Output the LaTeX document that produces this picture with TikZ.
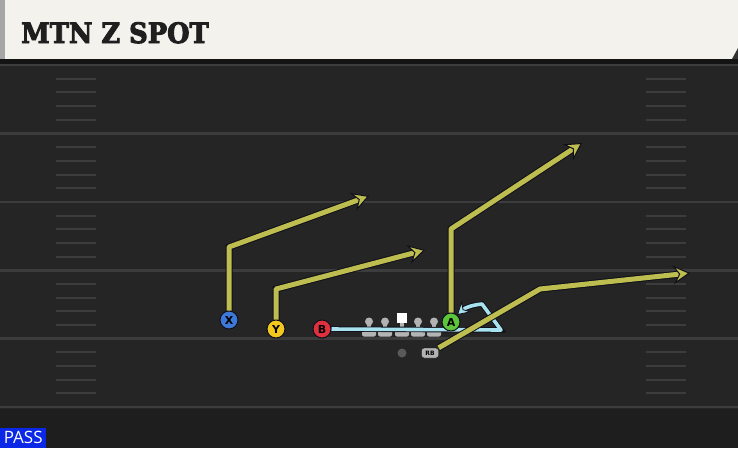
\documentclass[tikz,border=0pt]{standalone}
\usepackage{fontspec}
\setmainfont{DejaVu Sans}
\newfontfamily\titlefont[FakeBold=3.5]{DejaVu Serif Bold}
\newfontfamily\tagfont{Open Sans}
\usepackage{tikz}
\usetikzlibrary{positioning}
\usetikzlibrary{arrows.meta}
\definecolor{fieldbg}{HTML}{252525}
\definecolor{yardline}{HTML}{3C3C3C}
\definecolor{headbg}{HTML}{F4F2EC}
\definecolor{routeyellow}{HTML}{BDBD50}
\definecolor{routeedge}{HTML}{10101A}
\definecolor{blockblue}{HTML}{A8E2EE}
\definecolor{xblue}{HTML}{3C78D8}
\definecolor{yyellow}{HTML}{F2C81E}
\definecolor{bred}{HTML}{E0303E}
\definecolor{agreen}{HTML}{5CC63A}
\definecolor{passblue}{HTML}{0A28E6}
\definecolor{olgray}{HTML}{B4B4B4}

\begin{document}
\begin{tikzpicture}[
    x=1pt, y=-1pt,
    player/.style={draw=routeedge,circle,minimum size=18pt,inner sep=0pt,line width=1pt,text=black,
      font=\bfseries\fontsize{11}{11}\selectfont},
    route/.style={draw=routeyellow,line width=5pt,line join=round,
      preaction={draw=routeedge,line width=7pt,-,shorten >=12pt},
      -{Stealth[length=17pt,width=19pt,inset=6pt,color=routeedge,fill=routeyellow,line width=1pt]}},
    block/.style={draw=blockblue,line width=3.6pt,line join=round,
      preaction={draw=routeedge,line width=5.4pt,-,shorten >=8pt},
      -{Stealth[length=13pt,width=15pt,inset=4.5pt,color=routeedge,fill=blockblue,line width=0.8pt]}},
    hash/.style={draw=yardline,line width=2pt},
    ]

    \useasboundingbox (0,0) rectangle (738,448);
    \fill[fieldbg] (0,0) rectangle (738,448);
    \fill[fieldbg!80!black] (0,409) rectangle (738,448);

    % field
    \foreach \k in {0,...,5} {
      \draw[yardline,line width=2.6pt] (0,65+68.4*\k) -- (738,65+68.4*\k);
    }
    \foreach \k in {0,...,4} {
      \foreach \j in {1,...,4} {
        \draw[hash] (56,65+68.4*\k+13.7*\j) -- (96,65+68.4*\k+13.7*\j);
        \draw[hash] (646,65+68.4*\k+13.7*\j) -- (686,65+68.4*\k+13.7*\j);
      }
    }

    % header
    \fill[black!92] (0,58) rectangle (738,64);
    \fill[headbg] (0,0) rectangle (738,59);
    \fill[gray!70] (0,0) rectangle (5,59);
    \fill[black!80] (732,59) -- (738,48) -- (738,59) -- cycle;
    \node[anchor=base west,inner sep=0pt,text=black!88,
      font=\titlefont\fontsize{28}{28}\selectfont] (title) at (21,43) {\scalebox{0.92}[1]{MTN Z SPOT}};

    % line
    \foreach \x in {369,385,402,418,434} {
      \fill[olgray] (\x-2,322) rectangle (\x+2,331);
      \fill[olgray,rounded corners=2pt] (\x-7,336.5) -- (\x-7,330) -- (\x+7,330) -- (\x+7,336.5) -- cycle;
    }
    \foreach \x in {369,385,418,434} {
      \fill[gray!60] (\x,321.5) circle (4);
    }
    \fill[white] (397,313) rectangle (407,323);

    \node[player,fill=xblue] (X) at (229,320) {X};
    \node[player,fill=yyellow] (Y) at (276,329) {Y};
    \node[player,fill=bred] (B) at (322,329) {B};
    \node[circle,fill=gray!70!black,inner sep=0pt,minimum size=9pt] (QB) at (402,353) {};
    \node[draw=routeedge,fill=gray!60,rounded corners=2.5pt,minimum width=17pt,minimum height=10pt,
      inner sep=0pt,text=black,font=\bfseries\fontsize{6}{6}\selectfont] (RB) at (430,353) {RB};

    \coordinate (b1) at (501,330);
    \coordinate (b2) at (482,304);
    \coordinate (b3) at (457,315);
    \path[block] (B.east) -- (b1) -- (b2) to[bend right=18] (b3);

    \node[player,fill=agreen] (A) at (451,322) {A};

    \coordinate (x1) at (229,247);
    \coordinate (x2) at (369,196);
    \coordinate (y1) at (276,289);
    \coordinate (y2) at (425,250);
    \coordinate (a1) at (451,229);
    \coordinate (a2) at (582,143);
    \coordinate (r1) at (540,289);
    \coordinate (r2) at (690,273);

    \path[route] (X.north) -- (x1) -- (x2);
    \path[route] (Y.north) -- (y1) -- (y2);
    \path[route] (A.north) -- (a1) -- (a2);
    \path[route] (RB.north east) -- (r1) -- (r2);

    \node[fill=passblue,text=white,anchor=south west,minimum width=46pt,minimum height=20pt,inner sep=0pt,
      font=\tagfont\fontsize{17}{17}\selectfont] (pass) at (0,448) {PASS};

  \end{tikzpicture}
\end{document}
